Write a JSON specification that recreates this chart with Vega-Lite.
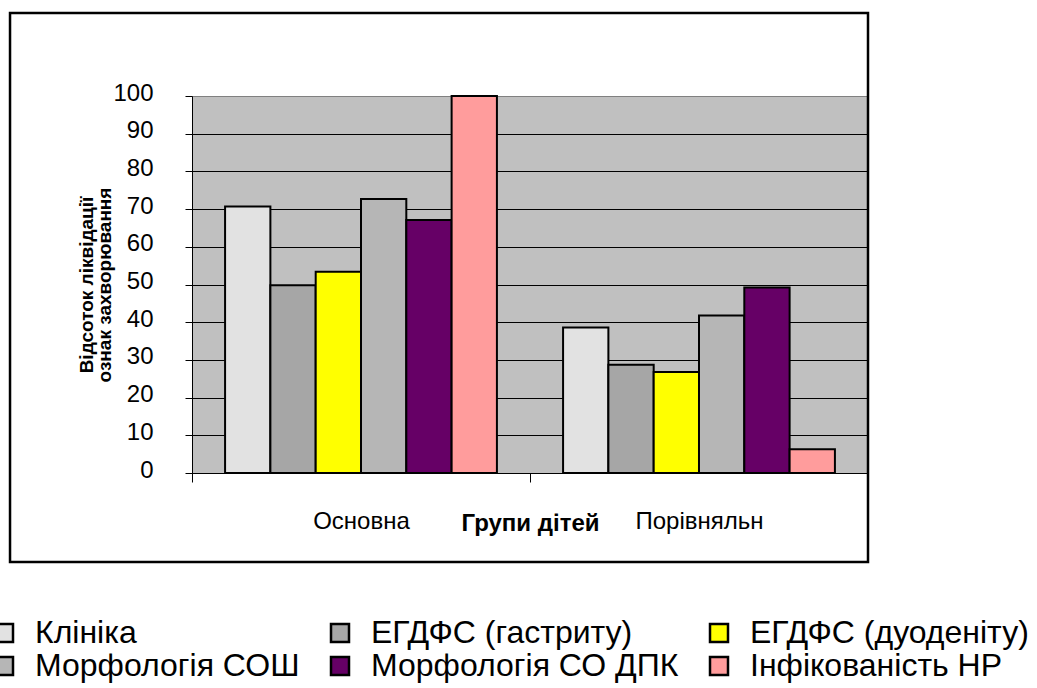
{
  "$schema": "https://vega.github.io/schema/vega-lite/v6.json",
  "width": 676,
  "height": 377,
  "autosize": {"type": "none"},
  "padding": {"left": 192, "top": 96, "right": 169, "bottom": 215},
  "background": "white",
  "config": {
    "font": "Liberation Sans",
    "view": {"fill": "#c0c0c0", "stroke": "#808080", "strokeWidth": 1},
    "axisY": {
      "tickCount": 10,
      "labelOverlap": false,
      "labelFontSize": 24,
      "labelColor": "black",
      "labelPadding": 32,
      "labelOffset": -3,
      "tickSize": 7,
      "tickColor": "black",
      "domainColor": "black",
      "grid": true,
      "gridColor": "black",
      "gridWidth": 1
    }
  },
  "resolve": {"scale": {"x": "independent"}},
  "layer": [
    {
      "data": {
        "values": [
          {"group": "Основна", "series": "Клініка", "value": 70.7},
          {"group": "Основна", "series": "ЕГДФС (гастриту)", "value": 49.8},
          {"group": "Основна", "series": "ЕГДФС (дуоденіту)", "value": 53.4},
          {"group": "Основна", "series": "Морфологія СОШ", "value": 72.7},
          {"group": "Основна", "series": "Морфологія СО ДПК", "value": 67.1},
          {"group": "Основна", "series": "Інфікованість НР", "value": 100},
          {"group": "Порівняльн", "series": "Клініка", "value": 38.6},
          {"group": "Порівняльн", "series": "ЕГДФС (гастриту)", "value": 28.7},
          {"group": "Порівняльн", "series": "ЕГДФС (дуоденіту)", "value": 26.8},
          {"group": "Порівняльн", "series": "Морфологія СОШ", "value": 41.8},
          {"group": "Порівняльн", "series": "Морфологія СО ДПК", "value": 49.2},
          {"group": "Порівняльн", "series": "Інфікованість НР", "value": 6.3}
        ]
      },
      "mark": {"type": "bar", "stroke": "black", "strokeWidth": 2},
      "encoding": {
        "x": {
          "field": "group",
          "type": "nominal",
          "sort": ["Основна", "Порівняльн"],
          "scale": {"paddingInner": 0, "paddingOuter": 0},
          "axis": {
            "title": "Групи дітей",
            "titleFontWeight": "bold",
            "titleFontSize": 24,
            "titleColor": "black",
            "titleY": 57,
            "titleBaseline": "alphabetic",
            "labelFontSize": 24,
            "labelColor": "black",
            "labelAngle": 0,
            "labelBaseline": "alphabetic",
            "labelPadding": 46,
            "tickSize": 9,
            "tickBand": "extent",
            "tickColor": "black",
            "domainColor": "black",
            "domainWidth": 1,
            "grid": false
          }
        },
        "xOffset": {
          "field": "series",
          "sort": ["Клініка", "ЕГДФС (гастриту)", "ЕГДФС (дуоденіту)", "Морфологія СОШ", "Морфологія СО ДПК", "Інфікованість НР"],
          "scale": {"paddingInner": 0, "paddingOuter": 0.73}
        },
        "y": {
          "field": "value",
          "type": "quantitative",
          "scale": {"domain": [0, 100]},
          "axis": {
            "title": ["Відсоток ліквідації", "ознак захворювання"],
            "titleFontWeight": "bold",
            "titleFontSize": 19,
            "titleLineHeight": 18,
            "titleColor": "black",
            "titlePadding": -2,
            "tickCount": 10,
            "labelOverlap": false,
            "gridColor": {"condition": {"test": "datum.value == 100", "value": "#808080"}, "value": "black"}
          }
        },
        "color": {
          "field": "series",
          "type": "nominal",
          "scale": {
            "domain": ["Клініка", "ЕГДФС (гастриту)", "ЕГДФС (дуоденіту)", "Морфологія СОШ", "Морфологія СО ДПК", "Інфікованість НР"],
            "range": ["#e2e2e2", "#a6a6a6", "#ffff00", "#b6b6b6", "#660066", "#ff9c9c"]
          },
          "legend": {
            "orient": "none",
            "legendX": -204,
            "legendY": 521,
            "direction": "horizontal",
            "columns": 3,
            "title": null,
            "padding": 0,
            "symbolType": "square",
            "symbolSize": 324,
            "symbolStrokeColor": "black",
            "symbolStrokeWidth": 2.5,
            "labelFontSize": 32,
            "labelColor": "black",
            "labelLimit": 500,
            "labelOffset": 15,
            "columnPadding": 24,
            "rowPadding": 1
          }
        }
      }
    },
    {
      "data": {"values": [{}]},
      "mark": {"type": "rect", "fill": null, "stroke": "black", "strokeWidth": 2.5, "clip": false},
      "encoding": {
        "x": {"datum": -0.2692, "type": "quantitative", "scale": {"domain": [0, 1]}, "axis": null},
        "x2": {"datum": 1},
        "y": {"datum": 122, "type": "quantitative"},
        "y2": {"datum": -23.6}
      }
    }
  ]
}
